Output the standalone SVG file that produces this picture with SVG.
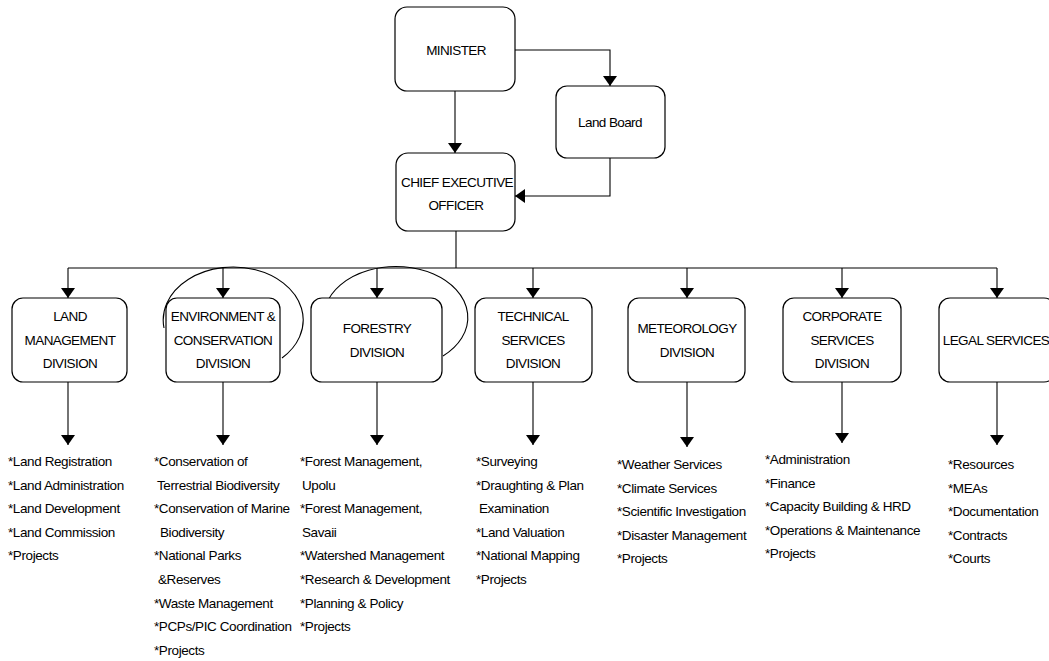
<svg xmlns="http://www.w3.org/2000/svg" width="1049" height="661" viewBox="0 0 1049 661">
<defs>
<marker id="ah" viewBox="0 0 10 14" refX="10" refY="7" markerWidth="10" markerHeight="14" markerUnits="userSpaceOnUse" orient="auto">
<path d="M0,0 L10,7 L0,14 Z" fill="#000"/>
</marker>
</defs>
<style>
.box{fill:#fff;stroke:#000;stroke-width:1.2}
.lbl{font-family:"Liberation Sans",Arial,sans-serif;font-size:13.5px;letter-spacing:-0.6px;text-anchor:middle;fill:#000}
.lst{font-family:"Liberation Sans",Arial,sans-serif;font-size:13.5px;letter-spacing:-0.4px;fill:#000}
.c{fill:none;stroke:#000;stroke-width:1.1}
.a{fill:none;stroke:#000;stroke-width:1.1;marker-end:url(#ah)}
</style>
<rect width="1049" height="661" fill="#fff"/>

<g id="connectors">
<path class="a" d="M455,91 V153"/>
<path class="a" d="M515,50 H610 V86"/>
<path class="a" d="M610,158 V196 H515"/>
<path class="c" d="M456,231 V268"/>
<path class="c" d="M68,268 H997"/>
<path class="a" d="M68,268 V298"/>
<path class="a" d="M223,268 V298"/>
<path class="a" d="M377,268 V298"/>
<path class="a" d="M533,268 V298"/>
<path class="a" d="M687,268 V298"/>
<path class="a" d="M842,268 V298"/>
<path class="a" d="M997,268 V298"/>
<path class="a" d="M68,382 V445"/>
<path class="a" d="M223,382 V445"/>
<path class="a" d="M377,382 V445"/>
<path class="a" d="M533,382 V445"/>
<path class="a" d="M687,382 V447"/>
<path class="a" d="M842,382 V443"/>
<path class="a" d="M997,382 V445"/>
<path class="c" d="M164,328 A70 53 0 1 1 282,358"/>
<path class="c" d="M326,305 A72 51 0 1 1 443,356"/>
</g>

<g id="minister">
<rect class="box" x="395" y="7" width="120" height="84" rx="12"/>
<text class="lbl" x="456" y="55">MINISTER</text>
</g>
<g id="land-board">
<rect class="box" x="556" y="86" width="109" height="72" rx="11"/>
<text class="lbl" x="610" y="127">Land Board</text>
</g>
<g id="ceo">
<rect class="box" x="396" y="153" width="119" height="78" rx="12"/>
<text class="lbl" x="457" y="187" textLength="112" lengthAdjust="spacingAndGlyphs">CHIEF EXECUTIVE</text>
<text class="lbl" x="456" y="210">OFFICER</text>
</g>

<g id="land-management">
<rect class="box" x="12" y="298" width="115" height="84" rx="11"/>
<text class="lbl" x="70" y="321">LAND</text>
<text class="lbl" x="70" y="345">MANAGEMENT</text>
<text class="lbl" x="70" y="368">DIVISION</text>
</g>
<g id="environment">
<rect class="box" x="166" y="298" width="114" height="84" rx="11"/>
<text class="lbl" x="223" y="321">ENVIRONMENT &amp;</text>
<text class="lbl" x="223" y="345">CONSERVATION</text>
<text class="lbl" x="223" y="368">DIVISION</text>
</g>
<g id="forestry">
<rect class="box" x="311" y="298" width="131" height="84" rx="11"/>
<text class="lbl" x="377" y="333">FORESTRY</text>
<text class="lbl" x="377" y="357">DIVISION</text>
</g>
<g id="technical">
<rect class="box" x="475" y="298" width="117" height="84" rx="11"/>
<text class="lbl" x="533" y="321">TECHNICAL</text>
<text class="lbl" x="533" y="345">SERVICES</text>
<text class="lbl" x="533" y="368">DIVISION</text>
</g>
<g id="meteorology">
<rect class="box" x="628" y="298" width="117" height="84" rx="11"/>
<text class="lbl" x="687" y="333">METEOROLOGY</text>
<text class="lbl" x="687" y="357">DIVISION</text>
</g>
<g id="corporate">
<rect class="box" x="783" y="298" width="118" height="84" rx="11"/>
<text class="lbl" x="842" y="321">CORPORATE</text>
<text class="lbl" x="842" y="345">SERVICES</text>
<text class="lbl" x="842" y="368">DIVISION</text>
</g>
<g id="legal">
<rect class="box" x="939" y="298" width="116" height="84" rx="11"/>
<text class="lbl" x="996" y="345">LEGAL SERVICES</text>
</g>

<g id="list-land">
<text class="lst" x="8" y="466">*Land Registration</text>
<text class="lst" x="8" y="490">*Land Administration</text>
<text class="lst" x="8" y="513">*Land Development</text>
<text class="lst" x="8" y="537">*Land Commission</text>
<text class="lst" x="8" y="560">*Projects</text>
</g>
<g id="list-environment">
<text class="lst" x="154" y="466">*Conservation of</text>
<text class="lst" x="157" y="490">Terrestrial Biodiversity</text>
<text class="lst" x="154" y="513">*Conservation of Marine</text>
<text class="lst" x="160" y="537">Biodiversity</text>
<text class="lst" x="154" y="560">*National Parks</text>
<text class="lst" x="158" y="584">&amp;Reserves</text>
<text class="lst" x="154" y="608">*Waste Management</text>
<text class="lst" x="154" y="631">*PCPs/PIC Coordination</text>
<text class="lst" x="154" y="655">*Projects</text>
</g>
<g id="list-forestry">
<text class="lst" x="300" y="466">*Forest Management,</text>
<text class="lst" x="302" y="490">Upolu</text>
<text class="lst" x="300" y="513">*Forest Management,</text>
<text class="lst" x="302" y="537">Savaii</text>
<text class="lst" x="300" y="560">*Watershed Management</text>
<text class="lst" x="300" y="584">*Research &amp; Development</text>
<text class="lst" x="300" y="608">*Planning &amp; Policy</text>
<text class="lst" x="300" y="631">*Projects</text>
</g>
<g id="list-technical">
<text class="lst" x="476" y="466">*Surveying</text>
<text class="lst" x="476" y="490">*Draughting &amp; Plan</text>
<text class="lst" x="479" y="513">Examination</text>
<text class="lst" x="476" y="537">*Land Valuation</text>
<text class="lst" x="476" y="560">*National Mapping</text>
<text class="lst" x="476" y="584">*Projects</text>
</g>
<g id="list-meteorology">
<text class="lst" x="617" y="469">*Weather Services</text>
<text class="lst" x="617" y="493">*Climate Services</text>
<text class="lst" x="617" y="516">*Scientific Investigation</text>
<text class="lst" x="617" y="540">*Disaster Management</text>
<text class="lst" x="617" y="563">*Projects</text>
</g>
<g id="list-corporate">
<text class="lst" x="765" y="464">*Administration</text>
<text class="lst" x="765" y="488">*Finance</text>
<text class="lst" x="765" y="511">*Capacity Building &amp; HRD</text>
<text class="lst" x="765" y="535">*Operations &amp; Maintenance</text>
<text class="lst" x="765" y="558">*Projects</text>
</g>
<g id="list-legal">
<text class="lst" x="948" y="469">*Resources</text>
<text class="lst" x="948" y="493">*MEAs</text>
<text class="lst" x="948" y="516">*Documentation</text>
<text class="lst" x="948" y="540">*Contracts</text>
<text class="lst" x="948" y="563">*Courts</text>
</g>
</svg>
